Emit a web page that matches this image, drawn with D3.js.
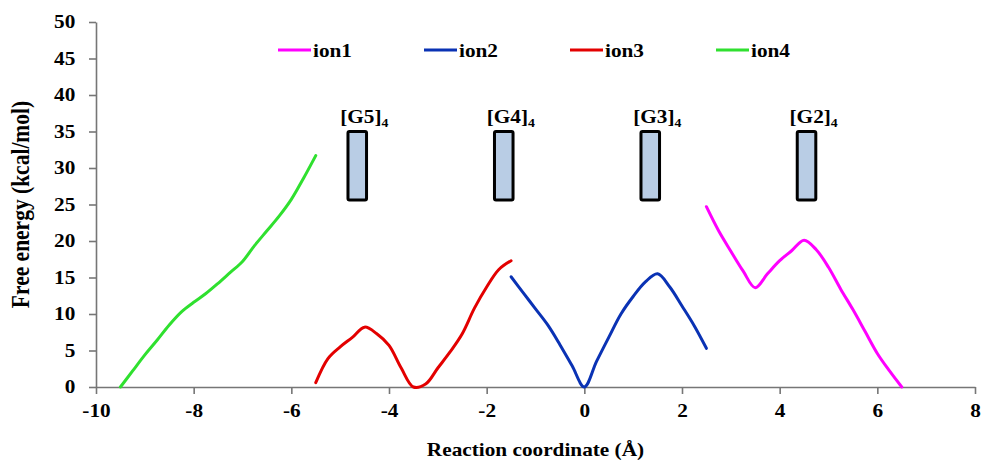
<!DOCTYPE html>
<html>
<head>
<meta charset="utf-8">
<script src="https://cdn.jsdelivr.net/npm/d3@7/dist/d3.min.js"></script>
<style>
  html, body { margin: 0; padding: 0; background: #fff; }
  svg { display: block; }
  text { font-family: "Liberation Serif", "Times New Roman", serif; font-weight: bold; fill: #000; }
</style>
</head>
<body>
<svg id="chart" width="982" height="461"></svg>
<script>
// Free-energy profiles of the four ions along the channel axis
const ion1X = [2.5, 2.75, 3, 3.25, 3.5, 3.75, 4, 4.25, 4.5, 4.75, 5, 5.25, 5.5, 5.75, 6, 6.25, 6.5];
const ion1Y = [24.7, 21.4, 18.6, 15.9, 13.6, 15.5, 17.3, 18.7, 20.1, 18.8, 16.4, 13.4, 10.6, 7.6, 4.6, 2.2, 0];

const ion2X = [-1.5, -1.25, -1, -0.75, -0.5, -0.25, 0, 0.25, 0.5, 0.75, 1, 1.25, 1.5, 1.75, 2, 2.25, 2.5];
const ion2Y = [15.1, 12.9, 10.7, 8.5, 5.8, 2.9, 0, 3.5, 6.8, 10.0, 12.4, 14.4, 15.5, 13.7, 11.1, 8.4, 5.3];

const ion3X = [-5.5, -5.25, -5, -4.75, -4.5, -4.25, -4, -3.75, -3.5, -3.25, -3, -2.75, -2.5, -2.25, -2, -1.75, -1.5];
const ion3Y = [0.6, 3.9, 5.5, 6.8, 8.2, 7.3, 5.7, 2.6, 0, 0.4, 2.6, 4.8, 7.3, 10.8, 13.7, 16.1, 17.3];

const ion4X = [-9.5, -9.25, -9, -8.75, -8.5, -8.25, -8, -7.75, -7.5, -7.25, -7, -6.75, -6.5, -6.25, -6, -5.75, -5.5];
const ion4Y = [0, 2.2, 4.4, 6.4, 8.5, 10.3, 11.6, 12.8, 14.2, 15.7, 17.2, 19.4, 21.4, 23.4, 25.7, 28.6, 31.7];

const seriesNames = ["ion1", "ion2", "ion3", "ion4"];
const seriesColors = ["#ff00ff", "#0a32b4", "#e30000", "#2fe02f"];

// G-quartet sites: position along the axis and vertical extent
const siteLabels = ["G5", "G4", "G3", "G2"];
const siteX = [-4.65, -1.65, 1.35, 4.55];
const siteBottom = 25.6;
const siteTop = 35.0;

const xTicks = [-10, -8, -6, -4, -2, 0, 2, 4, 6, 8];
const yTicks = [0, 5, 10, 15, 20, 25, 30, 35, 40, 45, 50];

const series = [
  { name: seriesNames[0], x: ion1X, y: ion1Y, color: seriesColors[0] },
  { name: seriesNames[1], x: ion2X, y: ion2Y, color: seriesColors[1] },
  { name: seriesNames[2], x: ion3X, y: ion3Y, color: seriesColors[2] },
  { name: seriesNames[3], x: ion4X, y: ion4Y, color: seriesColors[3] }
];

const svg = d3.select("#chart");
const plotLeft = 96, plotRight = 975, plotTop = 22, plotBottom = 387;
const SX = 1.15; // text is drawn horizontally widened
const FS = 18.5;

const x = d3.scaleLinear().domain([-10, 8]).range([plotLeft, plotRight]);
const y = d3.scaleLinear().domain([0, 50]).range([plotBottom, plotTop]);

// axes
const axisColor = "#767676";
const gx = svg.append("g")
  .attr("transform", `translate(0,${plotBottom})`)
  .call(d3.axisBottom(x).tickValues(xTicks).tickFormat(d3.format("d")).tickSizeInner(7).tickSizeOuter(0).tickPadding(10));
const gy = svg.append("g")
  .attr("transform", `translate(${plotLeft},0)`)
  .call(d3.axisLeft(y).tickValues(yTicks).tickFormat(d3.format("d")).tickSizeInner(7).tickSizeOuter(0).tickPadding(11));

[gx, gy].forEach(g => {
  g.select(".domain").attr("stroke", axisColor).attr("stroke-width", 1.6);
  g.selectAll(".tick line").attr("stroke", axisColor).attr("stroke-width", 1.6);
  g.selectAll(".tick text")
    .attr("font-family", "Liberation Serif, Times New Roman, serif")
    .attr("font-weight", "bold")
    .attr("font-size", FS)
    .attr("fill", "#000")
    .attr("transform", `scale(${SX},1)`);
});
gx.selectAll(".tick text").text(d => d < 0 ? "-" + Math.abs(d) : d);

// axis titles
svg.append("text")
  .attr("transform", `translate(${(plotLeft + plotRight) / 2},456) scale(${SX},1)`)
  .attr("text-anchor", "middle")
  .attr("font-size", FS)
  .text("Reaction coordinate (Å)");

svg.append("text")
  .attr("transform", `translate(29,${(plotTop + plotBottom) / 2}) scale(${SX},1) rotate(-90)`)
  .attr("text-anchor", "middle")
  .attr("font-size", 21.5)
  .text("Free energy (kcal/mol)");

// curves
const line = d3.line()
  .x(d => x(d[0]))
  .y(d => y(d[1]))
  .curve(d3.curveCatmullRom.alpha(0.5));

series.forEach(s => {
  svg.append("path")
    .datum(s.x.map((v, i) => [v, s.y[i]]))
    .attr("fill", "none")
    .attr("stroke", s.color)
    .attr("stroke-width", 3)
    .attr("stroke-linecap", "round")
    .attr("stroke-linejoin", "round")
    .attr("d", line);
});

// G-quartet site boxes with labels
const siteW = 0.38;
siteX.forEach((sx, i) => {
  svg.append("rect")
    .attr("x", x(sx - siteW / 2))
    .attr("y", y(siteTop))
    .attr("width", x(sx + siteW / 2) - x(sx - siteW / 2))
    .attr("height", y(siteBottom) - y(siteTop))
    .attr("rx", 1.5)
    .attr("fill", "#b9cde5")
    .attr("stroke", "#000")
    .attr("stroke-width", 3);
  const t = svg.append("text")
    .attr("transform", `translate(${x(sx) - 17},123) scale(${SX},1)`)
    .attr("font-size", FS);
  t.append("tspan").text(`[${siteLabels[i]}]`);
  t.append("tspan").attr("font-size", 12).attr("dy", 4).text("4");
});

// legend
const legendX = [278, 424, 570, 716];
series.forEach((s, i) => {
  const lx = legendX[i];
  svg.append("line")
    .attr("x1", lx).attr("x2", lx + 33)
    .attr("y1", 50).attr("y2", 50)
    .attr("stroke", s.color)
    .attr("stroke-width", 3);
  svg.append("text")
    .attr("transform", `translate(${lx + 35},57) scale(${SX},1)`)
    .attr("font-size", FS)
    .text(s.name);
});
</script>
</body>
</html>
